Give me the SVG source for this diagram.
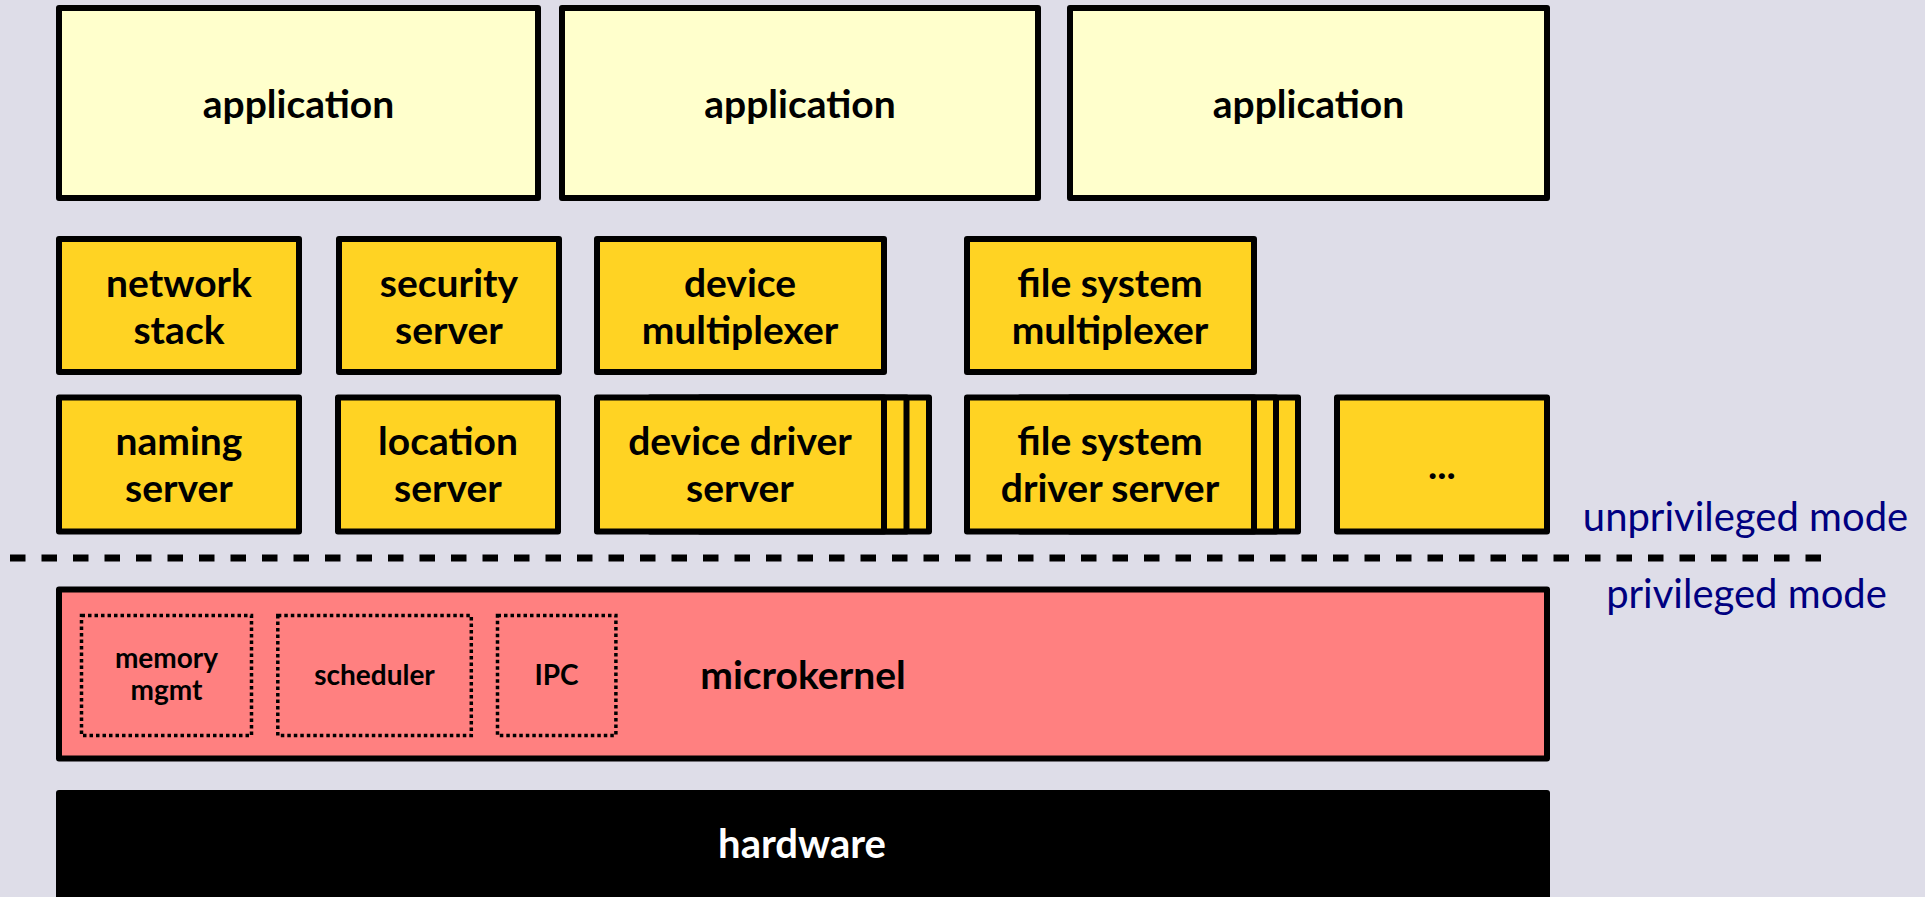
<svg xmlns="http://www.w3.org/2000/svg" width="1925" height="897" viewBox="0 0 1925 897">
  <style>
    .box { stroke: #000; stroke-width: 6; stroke-linejoin: round; }
    .app { fill: #ffffcc; }
    .srv { fill: #ffd323; }
    .kern { fill: #ff8080; }
    .part { fill: none; stroke: #000; stroke-width: 3.5; stroke-dasharray: 3.5 3; }
    .lbl { font-family: Lato, "Liberation Sans", sans-serif; font-weight: 700; font-size: 39px; fill: #000; text-anchor: middle; }
    .small { font-family: Lato, "Liberation Sans", sans-serif; font-weight: 700; font-size: 28px; fill: #000; text-anchor: middle; }
    .mode { font-family: Lato, "Liberation Sans", sans-serif; font-weight: 400; font-size: 40px; fill: #000080; text-anchor: middle; }
  </style>
  <rect width="1925" height="897" fill="#dedde8"/>

  <!-- applications -->
  <g id="app1">
    <rect class="box app" x="59" y="8" width="479" height="190"/>
    <text class="lbl" x="298.5" y="118">application</text>
  </g>
  <g id="app2">
    <rect class="box app" x="562" y="8" width="476" height="190"/>
    <text class="lbl" x="800" y="118">application</text>
  </g>
  <g id="app3">
    <rect class="box app" x="1070" y="8" width="477" height="190"/>
    <text class="lbl" x="1308.5" y="118">application</text>
  </g>

  <!-- user-space servers, upper row -->
  <g id="network-stack">
    <rect class="box srv" x="59" y="239" width="240" height="133"/>
    <text class="lbl" x="179" y="297">network</text>
    <text class="lbl" x="179" y="344">stack</text>
  </g>
  <g id="security-server">
    <rect class="box srv" x="339" y="239" width="220" height="133"/>
    <text class="lbl" x="449" y="297">security</text>
    <text class="lbl" x="449" y="344">server</text>
  </g>
  <g id="device-multiplexer">
    <rect class="box srv" x="597" y="239" width="287" height="133"/>
    <text class="lbl" x="740" y="297">device</text>
    <text class="lbl" x="740" y="344">multiplexer</text>
  </g>
  <g id="fs-multiplexer">
    <rect class="box srv" x="967" y="239" width="287" height="133"/>
    <text class="lbl" x="1110" y="297">file system</text>
    <text class="lbl" x="1110" y="344">multiplexer</text>
  </g>

  <!-- user-space servers, lower row -->
  <g id="naming-server">
    <rect class="box srv" x="59" y="397.5" width="240" height="134"/>
    <text class="lbl" x="179" y="455">naming</text>
    <text class="lbl" x="179" y="502">server</text>
  </g>
  <g id="location-server">
    <rect class="box srv" x="338" y="397.5" width="220" height="134"/>
    <text class="lbl" x="448" y="455">location</text>
    <text class="lbl" x="448" y="502">server</text>
  </g>
  <g id="device-driver-server">
    <rect class="box srv" x="700" y="397.5" width="229" height="134"/>
    <rect class="box srv" x="650" y="397.5" width="256.5" height="134"/>
    <rect class="box srv" x="597" y="397.5" width="287" height="134"/>
    <text class="lbl" x="740" y="455">device driver</text>
    <text class="lbl" x="740" y="502">server</text>
  </g>
  <g id="fs-driver-server">
    <rect class="box srv" x="1070" y="397.5" width="228" height="134"/>
    <rect class="box srv" x="1020" y="397.5" width="256" height="134"/>
    <rect class="box srv" x="967" y="397.5" width="287" height="134"/>
    <text class="lbl" x="1110" y="455">file system</text>
    <text class="lbl" x="1110" y="502">driver server</text>
  </g>
  <g id="more-servers">
    <rect class="box srv" x="1337" y="397.5" width="210" height="134"/>
    <text class="lbl" x="1442" y="479">...</text>
  </g>

  <!-- privilege boundary -->
  <g id="boundary">
    <line x1="10" y1="558" x2="1827" y2="558" stroke="#000" stroke-width="7" stroke-dasharray="15.5 16"/>
    <text class="mode" x="1745.5" y="531">unprivileged mode</text>
    <text class="mode" x="1746.5" y="608">privileged mode</text>
  </g>

  <!-- kernel -->
  <g id="microkernel">
    <rect class="box kern" x="59" y="589.5" width="1488" height="169"/>
    <text class="lbl" x="803" y="689">microkernel</text>
  </g>
  <g id="memory-mgmt">
    <rect class="part" x="81.5" y="615.5" width="170" height="120"/>
    <text class="small" x="166.5" y="668">memory</text>
    <text class="small" x="166.5" y="700">mgmt</text>
  </g>
  <g id="scheduler">
    <rect class="part" x="277.8" y="615.5" width="193.5" height="120"/>
    <text class="small" x="374.5" y="685">scheduler</text>
  </g>
  <g id="ipc">
    <rect class="part" x="497.5" y="615.5" width="118.4" height="120"/>
    <text class="small" x="556.5" y="685">IPC</text>
  </g>

  <!-- hardware -->
  <g id="hardware">
    <rect x="56" y="790" width="1494" height="130" rx="3" fill="#000"/>
    <text class="lbl" x="802" y="858" style="fill:#fff;font-size:40px">hardware</text>
  </g>

  <g id="connectors"/>
</svg>
